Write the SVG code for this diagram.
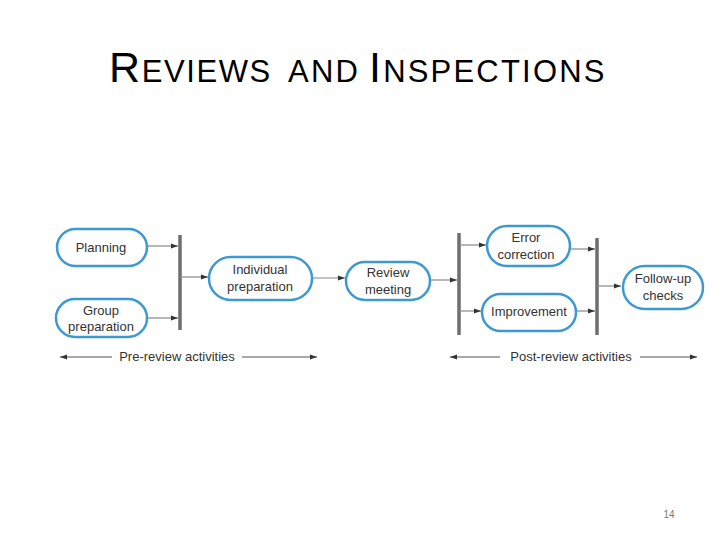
<svg xmlns="http://www.w3.org/2000/svg" width="720" height="540" viewBox="0 0 720 540">
<defs>
<marker id="ah" markerWidth="8" markerHeight="6" refX="7" refY="3" orient="auto" markerUnits="userSpaceOnUse">
<path d="M0,0.5 L7,3 L0,5.5 Z" fill="#333"/>
</marker>
<style>
.node rect{fill:#fff;stroke:#3d9ad1;stroke-width:2.5}
.node text{font-family:"Liberation Sans",Arial,sans-serif;font-size:13px;fill:#333;text-anchor:middle}
.c{stroke:#888;stroke-width:1.2;fill:none;marker-end:url(#ah)}
.bar{stroke:#6e6e6e;stroke-width:3.5}
.span{stroke:#555;stroke-width:1.2;fill:none;marker-end:url(#ah)}
.lbl{font-family:"Liberation Sans",Arial,sans-serif;font-size:13px;fill:#333;text-anchor:middle}
.t{font-family:"Liberation Sans",Arial,sans-serif;fill:#000;letter-spacing:1.6px}
</style>
</defs>
<rect width="720" height="540" fill="#fff"/>
<g id="title">
<text class="t" x="109" y="82"><tspan font-size="43">R</tspan><tspan font-size="31">EVIEWS</tspan></text>
<text class="t" x="288" y="82" font-size="31" style="letter-spacing:2.2px">AND</text>
<text class="t" x="369" y="82" style="letter-spacing:2.2px"><tspan font-size="43">I</tspan><tspan font-size="31">NSPECTIONS</tspan></text>
</g>

<g id="connectors">
<line class="bar" x1="180" y1="235" x2="180" y2="330"/>
<line class="bar" x1="459" y1="233" x2="459" y2="335"/>
<line class="bar" x1="597" y1="238" x2="597" y2="335"/>
<line class="c" x1="147" y1="246" x2="178" y2="246"/>
<line class="c" x1="147" y1="318" x2="178" y2="318"/>
<line class="c" x1="180" y1="277" x2="208" y2="277"/>
<line class="c" x1="312" y1="278" x2="345" y2="278"/>
<line class="c" x1="430" y1="280" x2="457" y2="280"/>
<line class="c" x1="459" y1="245" x2="486" y2="245"/>
<line class="c" x1="459" y1="311" x2="481" y2="311"/>
<line class="c" x1="570" y1="249" x2="595" y2="249"/>
<line class="c" x1="576" y1="311" x2="595" y2="311"/>
<line class="c" x1="597" y1="286" x2="621" y2="286"/>
<line class="span" x1="112" y1="357" x2="60" y2="357"/>
<line class="span" x1="242" y1="357" x2="317" y2="357"/>
<line class="span" x1="500" y1="357" x2="450" y2="357"/>
<line class="span" x1="640" y1="357" x2="697" y2="357"/>
</g>

<g id="planning" class="node"><rect x="57" y="229" width="90" height="37" rx="18.5"/><text x="101" y="252">Planning</text></g>
<g id="group-preparation" class="node"><rect x="56" y="299" width="91" height="38" rx="19"/><text x="101" y="315">Group</text><text x="101" y="331">preparation</text></g>
<g id="individual-preparation" class="node"><rect x="209" y="257" width="103" height="43" rx="21.5"/><text x="260" y="274">Individual</text><text x="260" y="291">preparation</text></g>
<g id="review-meeting" class="node"><rect x="346" y="262" width="84" height="38" rx="19"/><text x="388" y="277">Review</text><text x="388" y="294">meeting</text></g>
<g id="error-correction" class="node"><rect x="487" y="226" width="83" height="40" rx="20"/><text x="526" y="242">Error</text><text x="526" y="259">correction</text></g>
<g id="improvement" class="node"><rect x="482" y="294" width="94" height="37" rx="18.5"/><text x="529" y="316">Improvement</text></g>
<g id="follow-up-checks" class="node"><rect x="623" y="266" width="80" height="43" rx="21.5"/><text x="663" y="283">Follow-up</text><text x="663" y="300">checks</text></g>

<text class="lbl" x="177" y="361">Pre-review activities</text>
<text class="lbl" x="571" y="361">Post-review activities</text>
<text x="669" y="518" font-family="Liberation Sans,Arial,sans-serif" font-size="10" fill="#777" text-anchor="middle">14</text>
</svg>
